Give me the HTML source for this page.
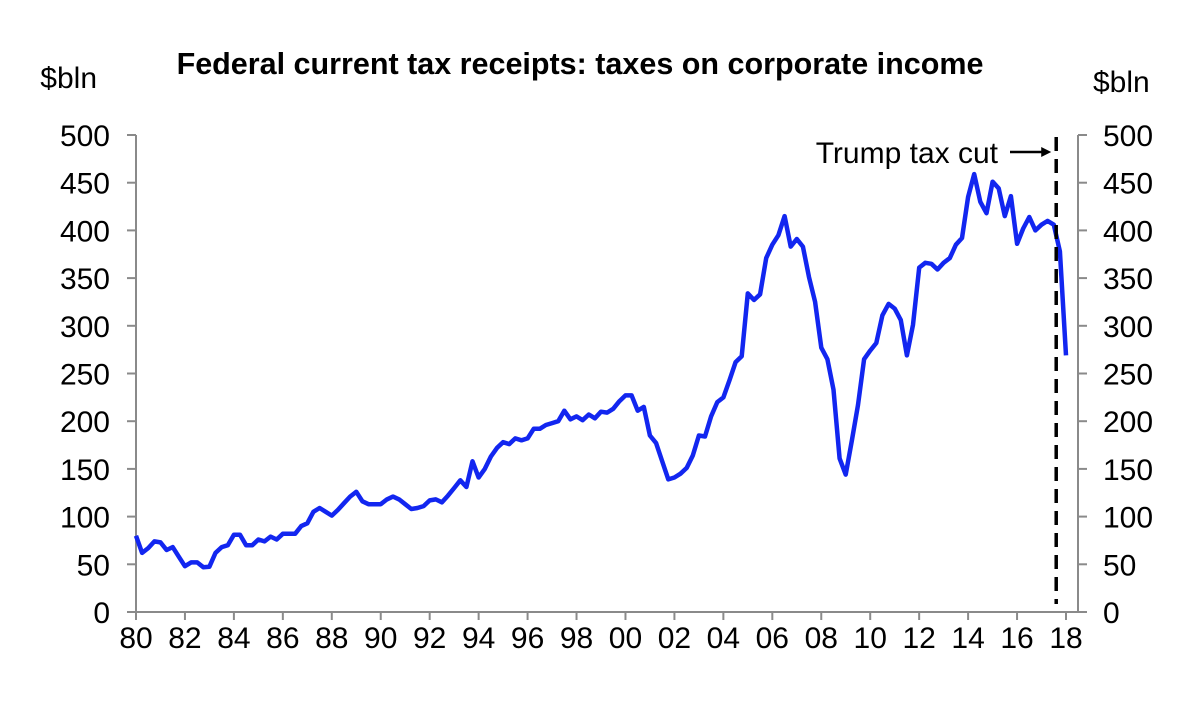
<!DOCTYPE html>
<html><head><meta charset="utf-8"><style>
body{margin:0;background:#fff;}
svg text{font-family:"Liberation Sans",Arial,sans-serif;fill:#000;}
</style></head><body>
<svg id="chart" width="1200" height="722" viewBox="0 0 1200 722" xmlns="http://www.w3.org/2000/svg">
<rect width="1200" height="722" fill="#fff"/>
<text x="580" y="74" font-size="30.5" font-weight="bold" text-anchor="middle">Federal current tax receipts: taxes on corporate income</text>
<text x="97" y="88" font-size="30" text-anchor="end">$bln</text>
<text x="1093" y="92" font-size="30">$bln</text>
<g id="axes"></g>
<g id="series"></g>
<g id="annot"></g>
</svg>
<script>
const startYear = 1980;
const yTicks = [0,50,100,150,200,250,300,350,400,450,500];
const xTickLabels = ["80","82","84","86","88","90","92","94","96","98","00","02","04","06","08","10","12","14","16","18"];
const receipts = [80,62,67,74,73,65,68,58,48,52,52,47,47.5,62,68,70,81,81,70,70,76,74,79,76,82,82,82,90,93,105,109,105,101,107,114,121,126,116,113,113,113,118,121,118,113,108,109,111,117,118,115,122,130,138,131,158,141,150,163,172,178,176,182,180,182,192,192,196,198,200,211,202,205,201,207,203,210,209,213,221,227,227,211,215,185,177,158,139,141,145,151,164,185,184,205,220,225,243,262,268,334,327,333,371,385,395,415,383,391,383,351,325,277,265,233,161,144,180,217,265,274,282,311,323,318,306,269,301,361,366,365,359,366,371,385,392,435,459,430,418,451,444,415,436,386,402,414,400,406,410,406,378,269];
const taxCutYear = 2017.6;

const NS="http://www.w3.org/2000/svg";
const x0=136,x1=1066,yr0=1980,yr1=2018;
const X=y=>x0+(y-yr0)*(x1-x0)/(yr1-yr0);
const Y=v=>612-v*(612-135)/500;
function mk(tag,attrs,parent){const e=document.createElementNS(NS,tag);for(const k in attrs)e.setAttribute(k,attrs[k]);parent.appendChild(e);return e;}
const axes=document.getElementById('axes');
const ax='#8a8a8a';
let l=mk('line',{x1:x0,y1:Y(0),x2:x0,y2:Y(500),stroke:ax,'stroke-width':2},axes);


l=mk('line',{x1:1078,y1:Y(0),x2:1078,y2:Y(500),stroke:ax,'stroke-width':2},axes);


l=mk('line',{x1:x0,y1:Y(0),x2:1078,y2:Y(0),stroke:ax,'stroke-width':2},axes);


yTicks.forEach(v=>{
  mk('line',{x1:x0-9,y1:Y(v),x2:x0,y2:Y(v),stroke:ax,'stroke-width':2},axes);
  mk('line',{x1:1078,y1:Y(v),x2:1087,y2:Y(v),stroke:ax,'stroke-width':2},axes);
  let t=mk('text',{x:110,y:Y(v)+11,'font-size':30,'text-anchor':'end'},axes);t.textContent=v;
  
  
  t=mk('text',{x:1103,y:Y(v)+11,'font-size':30},axes);t.textContent=v;
  
  
});
xTickLabels.forEach((s,i)=>{
  const xx=X(yr0+2*i);
  mk('line',{x1:xx,y1:Y(0),x2:xx,y2:Y(0)+8,stroke:ax,'stroke-width':2},axes);
  const t=mk('text',{x:xx,y:648,'font-size':30,'text-anchor':'middle'},axes);t.textContent=s;
  
  
});
const pts=receipts.map((v,i)=>X(startYear+i/4).toFixed(1)+','+Y(v).toFixed(1)).join(' ');
const pl=mk('polyline',{points:pts,fill:'none',stroke:'#1226f0','stroke-width':4.5,'stroke-linejoin':'round'},document.getElementById('series'));


const an=document.getElementById('annot');
const dx=X(taxCutYear);
const dl=mk('line',{x1:dx,y1:137,x2:dx,y2:604,stroke:'#000','stroke-width':3.5,'stroke-dasharray':'14,8'},an);


const tt=mk('text',{x:998,y:163,'font-size':30,'text-anchor':'end'},an);tt.textContent='Trump tax cut';


const ar=mk('line',{x1:1010,y1:152,x2:dx-12,y2:152,stroke:'#000','stroke-width':2.5},an);


const ah=mk('polygon',{points:`${dx-5},152 ${dx-15},147 ${dx-15},157`,fill:'#000'},an);


</script>
</body></html>
